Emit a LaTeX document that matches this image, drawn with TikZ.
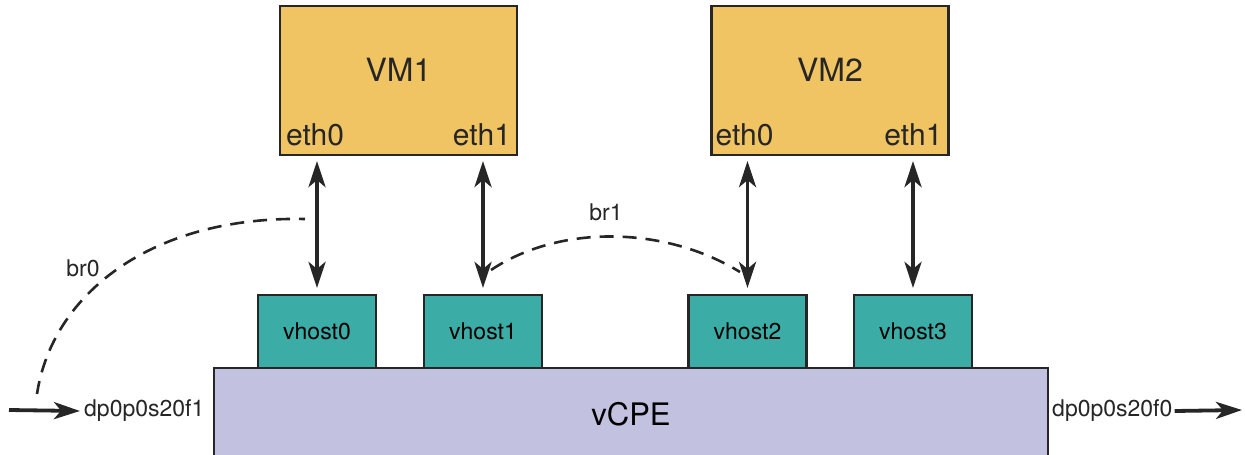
\documentclass[tikz,border=0pt]{standalone}
\usepackage{fontspec}
\setmainfont{TeX Gyre Heros}
\usetikzlibrary{arrows.meta,calc}
\definecolor{vmfill}{HTML}{F0C463}
\definecolor{vhfill}{HTML}{3BACA6}
\definecolor{cpefill}{HTML}{C3C1E0}
\definecolor{ink}{HTML}{262626}
\tikzset{
  tip/.tip={Stealth[length=26pt,width=17pt,inset=7pt]},
  vmbox/.style={draw=ink, fill=vmfill, line width=2.2pt, minimum width=237pt, minimum height=149pt, inner sep=0pt},
  vhbox/.style={draw=ink, fill=vhfill, line width=2.2pt, minimum width=118pt, minimum height=73pt, inner sep=0pt, font=\fontsize{23}{26}\selectfont},
  cpebox/.style={draw=ink, fill=cpefill, line width=2.2pt, minimum width=834pt, minimum height=92pt, inner sep=0pt, font=\fontsize{31}{34}\selectfont},
  vmtitle/.style={font=\fontsize{32}{35}\selectfont, text=ink},
  ethlbl/.style={font=\fontsize{30}{34}\selectfont, text=ink, inner sep=0pt},
  smalllbl/.style={font=\fontsize{23}{26}\selectfont, text=ink, inner sep=0pt},
  link/.style={tip-tip, line width=3.8pt, draw=ink},
  flow/.style={-tip, line width=3.8pt, draw=ink},
  bridge/.style={dash pattern=on 14pt off 9pt, line width=2.6pt, draw=ink}
}
\begin{document}
\begin{tikzpicture}[x=1pt,y=-1pt]
\useasboundingbox (0,0) rectangle (1245,455);
\clip (0,0) rectangle (1245,455);
% VMs
\node[vmbox] (VM1) at (398.5,80.5) {};
\node[vmtitle] (VM1t) at (398.5,70) {VM1};
\node[ethlbl, anchor=base west] (VM1e0) at ($(VM1.south west)+(7,-11)$) {eth0};
\node[ethlbl, anchor=base east] (VM1e1) at ($(VM1.south east)+(-7,-11)$) {eth1};
\node[vmbox] (VM2) at (830,80.5) {};
\node[vmtitle] (VM2t) at (830,70) {VM2};
\node[ethlbl, anchor=base west] (VM2e0) at ($(VM2.south west)+(5,-11)$) {eth0};
\node[ethlbl, anchor=base east] (VM2e1) at ($(VM2.south east)+(-7,-11)$) {eth1};
% vCPE
\node[cpebox] (cpe) at (631,414) {vCPE};
% vhosts
\node[vhbox] (vh0) at (317,331.5) {vhost0};
\node[vhbox] (vh1) at (483,331.5) {vhost1};
\node[vhbox] (vh2) at (747.5,331.5) {vhost2};
\node[vhbox] (vh3) at (913,331.5) {vhost3};
% links
\draw[link, shorten <=5pt, shorten >=6pt] (vh0.north |- VM1.south) -- (vh0.north);
\draw[link, shorten <=5pt, shorten >=6pt] (vh1.north |- VM1.south) -- (vh1.north);
\draw[link, shorten <=5pt, shorten >=6pt] (vh2.north |- VM2.south) -- (vh2.north);
\draw[link, shorten <=5pt, shorten >=6pt] (vh3.north |- VM2.south) -- (vh3.north);
% ports
\node[smalllbl, anchor=west] (p1) at (84,411) {dp0p0s20f1};
\node[smalllbl, anchor=west] (p0) at (1052,411) {dp0p0s20f0};
\coordinate (inS) at (9,410);
\coordinate (outE) at (1242,410);
\draw[flow] (inS) -- ([xshift=-4pt]p1.west);
\draw[flow] ([xshift=2pt]p0.east) -- (outE);
% bridges
\coordinate (b0a) at (305,219);
\coordinate (b0b) at (37,394);
\draw[bridge, dash phase=8pt] (b0a) .. controls (150,216) and (52,295) .. (b0b);
\node[smalllbl] (br0) at (83,268) {br0};
\coordinate (b1a) at (491,270);
\coordinate (b1b) at (740,272);
\draw[bridge] (b1a) .. controls (560,224) and (665,226) .. (b1b);
\node[smalllbl] (br1) at (606,212) {br1};
\end{tikzpicture}
\end{document}
